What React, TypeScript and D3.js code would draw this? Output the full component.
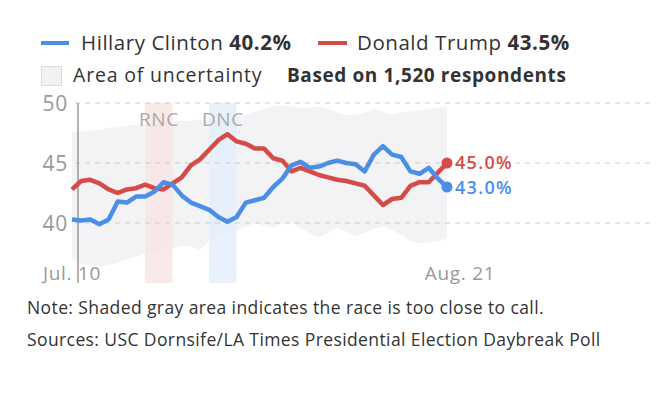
import * as d3 from 'd3';

// daily values, Jul. 10 – Aug. 21
const clinton = [40.3, 40.2, 40.3, 39.9, 40.3, 41.8, 41.7, 42.2, 42.2, 42.6, 43.4, 43.2, 42.3, 41.7, 41.4, 41.1, 40.5, 40.1, 40.5, 41.7, 41.9, 42.1, 43.0, 43.7, 44.8, 45.1, 44.6, 44.7, 45.0, 45.2, 45.0, 44.9, 44.3, 45.7, 46.4, 45.7, 45.5, 44.3, 44.1, 44.6, 43.7, 43.0];
const trump = [42.8, 43.5, 43.6, 43.3, 42.8, 42.5, 42.8, 42.9, 43.2, 42.9, 42.8, 43.3, 43.8, 44.8, 45.3, 46.1, 46.9, 47.4, 46.8, 46.6, 46.2, 46.2, 45.4, 45.2, 44.3, 44.6, 44.3, 44.0, 43.8, 43.6, 43.5, 43.3, 43.1, 42.3, 41.5, 42.0, 42.1, 43.1, 43.4, 43.4, 44.2, 45.0];
const bandHigh = [47.6, 47.6, 47.7, 47.8, 47.9, 48.0, 48.1, 48.2, 48.2, 48.3, 48.3, 48.4, 48.5, 48.5, 48.6, 48.6, 48.7, 48.7, 48.8, 49.0, 49.3, 49.5, 49.7, 49.8, 49.7, 49.6, 49.6, 49.7, 49.5, 49.2, 49.0, 49.0, 49.2, 49.5, 49.3, 49.0, 49.2, 49.3, 49.4, 49.5, 49.6, 49.7];
const bandLow = [37.0, 36.6, 36.5, 36.4, 36.5, 36.7, 37.0, 37.2, 37.4, 37.5, 37.7, 37.9, 38.1, 38.0, 37.8, 38.5, 38.9, 39.1, 39.4, 39.7, 40.0, 39.8, 39.6, 39.9, 40.0, 39.6, 39.1, 38.8, 39.2, 39.6, 39.3, 38.9, 39.2, 39.5, 39.7, 39.4, 39.0, 38.5, 38.3, 38.4, 38.5, 38.7];
const legendNames = ['Hillary Clinton', 'Donald Trump'];
const legendValues = [40.2, 43.5];
const yTicks = [40, 45, 50];
const conventions = [
    { name: 'RNC', start: 8, end: 11, color: '#f7e4e4' },
    { name: 'DNC', start: 15, end: 18, color: '#e4eefb' },
];
const xLabels = ['Jul. 10', 'Aug. 21'];

const BLUE = '#4a8ee6';
const RED = '#d44b47';
const FONT = '"Open Sans", Roboto, sans-serif';

export default function App() {
    const width = 657;
    const height = 397;
    const last = clinton.length - 1;

    const x = d3.scaleLinear([0, last], [72, 447]);
    const y = d3.scaleLinear([35, 50], [283, 103]);

    const line = d3.line<number>()
        .x((_, i) => x(i))
        .y(d => y(d));

    const area = d3.area<number>()
        .x((_, i) => x(i))
        .y0((_, i) => y(bandLow[i]))
        .y1(d => y(d));

    return <svg width={width} height={height} style={{ position: 'absolute', left: 0, top: 0, background: '#fff' }}
        fontFamily={FONT}>
        {/* legend */}
        <line x1={41} x2={69} y1={43} y2={43} stroke={BLUE} strokeWidth={4} />
        <text x={81} y={50} fontSize={20.5} letterSpacing={0.55} fill="#333">{legendNames[0]} <tspan fontWeight="bold">{legendValues[0].toFixed(1)}%</tspan></text>
        <line x1={318} x2={347} y1={43} y2={43} stroke={RED} strokeWidth={4} />
        <text x={357} y={50} fontSize={20.5} letterSpacing={0.55} fill="#333">{legendNames[1]} <tspan fontWeight="bold">{legendValues[1].toFixed(1)}%</tspan></text>
        <rect x={41.5} y={66.5} width={20} height={19} fill="#f2f2f4" stroke="#ddd" />
        <text x={73} y={82} fontSize={19.5} letterSpacing={0.8} fill="#333">Area of uncertainty</text>
        <text x={287} y={82} fontSize={19} letterSpacing={0.6} fontWeight="bold" fill="#333">Based on 1,520 respondents</text>

        {/* uncertainty band */}
        <path d={area(bandHigh)!} fill="#f3f3f6" />

        {/* convention bands */}
        {conventions.map(c => <g key={c.name}>
            <rect x={x(c.start)} width={x(c.end) - x(c.start)} y={y(50)} height={y(35) - y(50)} fill={c.color} opacity={0.8} />
            <text x={(x(c.start) + x(c.end)) / 2} y={y(48.7) + 7} textAnchor="middle" fontSize={19} letterSpacing={0.6} fill="#aaa">{c.name}</text>
        </g>)}

        {/* grid */}
        {yTicks.map(t => <g key={t}>
            <line x1={75} x2={652} y1={y(t)} y2={y(t)} stroke="#ccc" strokeDasharray="5,5" />
            <text x={68} y={y(t) + 7.5} textAnchor="end" fontSize={21} letterSpacing={0.8} fill="#999">{t}</text>
        </g>)}

        <line x1={x(0) + 6} x2={x(0) + 6} y1={y(50)} y2={y(35)} stroke="#999" strokeWidth={1.5} />

        <path d={line(trump)!} fill="none" stroke={RED} strokeWidth={4.5} strokeLinejoin="round" />
        <path d={line(clinton)!} fill="none" stroke={BLUE} strokeWidth={4.5} strokeLinejoin="round" />
        <circle cx={x(last)} cy={y(trump[last])} r={5.5} fill={RED} />
        <circle cx={x(last)} cy={y(clinton[last])} r={5.5} fill={BLUE} />
        <text x={x(last) + 8} y={y(trump[last]) + 6} fontSize={18} letterSpacing={1.3} fontWeight={600} fill={RED}>{trump[last].toFixed(1)}%</text>
        <text x={x(last) + 8} y={y(clinton[last]) + 7} fontSize={18} letterSpacing={1.3} fontWeight={600} fill={BLUE}>{clinton[last].toFixed(1)}%</text>

        <text x={x(0)} y={280} textAnchor="middle" fontSize={19} letterSpacing={0.7} fill="#999">{xLabels[0]}</text>
        <text x={x(last) + 13} y={280} textAnchor="middle" fontSize={19} letterSpacing={0.7} fill="#999">{xLabels[1]}</text>

        {/* notes */}
        <text x={27} y={314} fontSize={17.5} letterSpacing={0.4} fill="#333">Note: Shaded gray area indicates the race is too close to call.</text>
        <text x={27} y={346} fontSize={17.5} letterSpacing={0.4} fill="#333">Sources: USC Dornsife/LA Times Presidential Election Daybreak Poll</text>
    </svg>;
}
